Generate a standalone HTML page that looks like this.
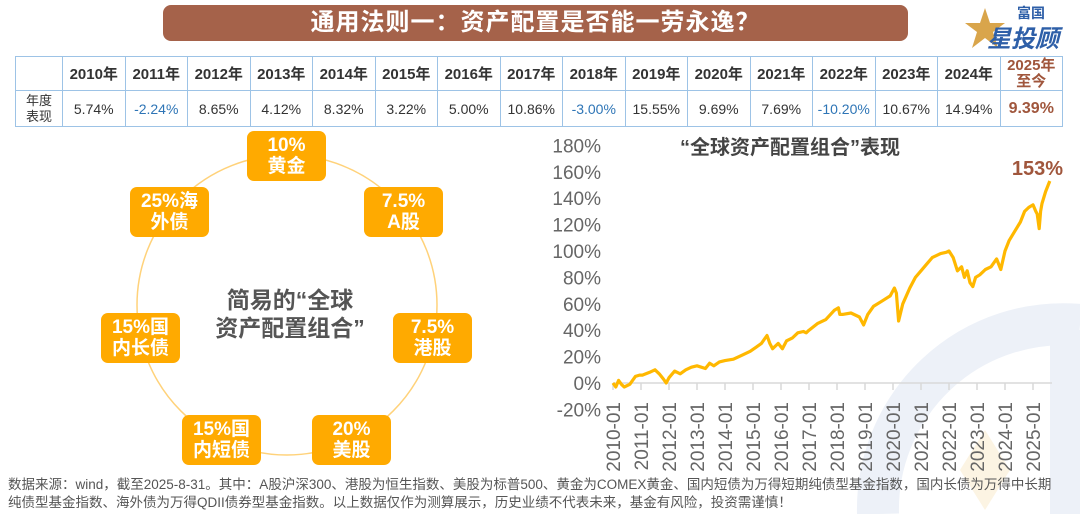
<!DOCTYPE html>
<html><head><meta charset="utf-8">
<style>
body{margin:0;width:1080px;height:514px;overflow:hidden;background:#fff;font-family:"Liberation Sans","Noto Sans CJK SC",sans-serif;position:relative}
.abs{position:absolute}
#banner{left:163px;top:5px;width:745px;height:36px;background:#a5624a;border-radius:8px;color:#fff;font-weight:bold;font-size:24px;text-align:center;line-height:36px;letter-spacing:1px}
table{position:absolute;left:15px;top:56px;border-collapse:collapse;font-size:14px;color:#333}
td{border:1px solid #9dc3e6;text-align:center;padding:0;width:61.5px}
tr.h td{height:33px;font-weight:bold;font-size:15px}
tr.v td{height:35px}
td.first{width:46px;font-size:13px;line-height:16px}
.neg{color:#2e75b6}
.hl{color:#a0563c;font-weight:bold}
.box{position:absolute;width:79px;height:50px;background:#ffaa00;border-radius:7px;color:#fff;font-weight:bold;font-size:19px;line-height:21px;text-align:center;display:flex;align-items:center;justify-content:center}
#center{left:210px;top:286px;width:160px;font-size:23px;font-weight:bold;color:#555;line-height:28px;text-align:center}
#foot{left:8px;top:476px;font-size:13.5px;color:#555;line-height:18px;white-space:nowrap}
</style></head><body>
<svg class="abs" style="left:0;top:0" width="1080" height="514">
<path d="M878,514 A185,185 0 0 1 1080,325" fill="none" stroke="#edf1f8" stroke-width="42"/>
<rect x="1050" y="330" width="30" height="184" fill="#edf1f8"/>
<polygon points="985,430 1010,470 985,510 960,470" fill="#fcf4e3"/>
</svg>
<div id="banner" class="abs">通用法则一：资产配置是否能一劳永逸？</div>
<div class="abs" style="left:965px;top:3px;width:110px;height:48px">
<svg width="110" height="48"><polygon points="20,5 25,20 40,20 28,29 33,45 20,35 7,45 12,29 0,20 15,20" fill="#d9a54b"/></svg>
<div class="abs" style="left:52px;top:0;font-size:14px;font-weight:bold;color:#2e5fa8">富国</div>
<div class="abs" style="left:22px;top:16px;font-size:24px;font-weight:bold;color:#2e5fa8;font-style:italic">星投顾</div>
</div>
<table>
<tr class="h"><td class="first"></td><td>2010年</td><td>2011年</td><td>2012年</td><td>2013年</td><td>2014年</td><td>2015年</td><td>2016年</td><td>2017年</td><td>2018年</td><td>2019年</td><td>2020年</td><td>2021年</td><td>2022年</td><td>2023年</td><td>2024年</td><td class="hl" style="line-height:16px">2025年<br>至今</td></tr>
<tr class="v"><td class="first">年度<br>表现</td><td>5.74%</td><td class="neg">-2.24%</td><td>8.65%</td><td>4.12%</td><td>8.32%</td><td>3.22%</td><td>5.00%</td><td>10.86%</td><td class="neg">-3.00%</td><td>15.55%</td><td>9.69%</td><td>7.69%</td><td class="neg">-10.20%</td><td>10.67%</td><td>14.94%</td><td class="hl" style="font-size:16px">9.39%</td></tr>
</table>
<svg class="abs" style="left:0;top:0" width="520" height="470"><circle cx="287" cy="305" r="150" fill="none" stroke="#ffd27a" stroke-width="1.5"/></svg>
<div class="box" style="left:247px;top:131px">10%<br>黄金</div>
<div class="box" style="left:364px;top:187px">7.5%<br>A股</div>
<div class="box" style="left:393px;top:313px">7.5%<br>港股</div>
<div class="box" style="left:312px;top:415px">20%<br>美股</div>
<div class="box" style="left:182px;top:415px">15%国<br>内短债</div>
<div class="box" style="left:101px;top:313px">15%国<br>内长债</div>
<div class="box" style="left:130px;top:187px">25%海<br>外债</div>
<div id="center" class="abs">简易的“全球<br>资产配置组合”</div>
<svg id="chart" class="abs" style="left:0;top:0" width="1080" height="480"></svg>
<div id="foot" class="abs">数据来源：wind，截至2025-8-31。其中：A股沪深300、港股为恒生指数、美股为标普500、黄金为COMEX黄金、国内短债为万得短期纯债型基金指数，国内长债为万得中长期<br>纯债型基金指数、海外债为万得QDII债券型基金指数。以上数据仅作为测算展示，历史业绩不代表未来，基金有风险，投资需谨慎！</div>
<script>
const yTicks=[-20,0,20,40,60,80,100,120,140,160,180];
const xYears=[2010,2011,2012,2013,2014,2015,2016,2017,2018,2019,2020,2021,2022,2023,2024,2025];
const dates=[2010.0,2010.1,2010.2,2010.3,2010.4,2010.6,2010.8,2010.95,2011.05,2011.3,2011.5,2011.65,2011.8,2011.9,2012.0,2012.2,2012.4,2012.6,2012.8,2013.0,2013.3,2013.45,2013.6,2013.8,2014.0,2014.3,2014.6,2014.9,2015.1,2015.3,2015.5,2015.6,2015.7,2015.9,2016.05,2016.2,2016.4,2016.6,2016.8,2016.9,2017.0,2017.3,2017.6,2017.9,2018.05,2018.1,2018.2,2018.5,2018.8,2018.95,2019.1,2019.3,2019.6,2019.9,2020.05,2020.12,2020.2,2020.35,2020.6,2020.8,2021.0,2021.2,2021.4,2021.7,2021.9,2022.0,2022.15,2022.3,2022.45,2022.55,2022.65,2022.75,2022.85,2022.95,2023.1,2023.3,2023.5,2023.7,2023.85,2024.0,2024.15,2024.35,2024.55,2024.7,2024.85,2025.0,2025.1,2025.15,2025.22,2025.27,2025.32,2025.45,2025.6,2025.68];
const values=[0,-3,2,-1,-3,-1,5,6,6,8,10,7,3,0,4,9,7,10,12,13,11,15,13,16,17,18,21,24,27,30,36,30,26,30,26,32,34,38,39,38,40,45,48,55,57,52,52,53,50,44,52,58,62,66,72,68,47,60,72,80,85,90,95,98,99,100,95,85,88,80,85,76,73,80,82,86,88,94,86,100,108,115,122,130,133,135,130,128,117,130,136,145,153];
const ns="http://www.w3.org/2000/svg";
const svg=document.getElementById('chart');
const x0=613,pxYear=28,y0=383,pxPct=26.4/20;
const X=d=>x0+(d-2010)*pxYear;
const Y=v=>y0-v*pxPct;
function mk(t,a){const e=document.createElementNS(ns,t);for(const k in a)e.setAttribute(k,a[k]);svg.appendChild(e);return e;}
yTicks.forEach(v=>{const t=mk('text',{x:601,y:Y(v)+7,'text-anchor':'end','font-size':19,fill:'#666'});t.textContent=v+'%';

});
const ax=mk('line',{x1:X(2010),x2:1052,y1:y0,y2:y0,stroke:'#d9d9d9','stroke-width':1.5});


xYears.forEach(yr=>{const xx=X(yr);mk('line',{x1:xx,x2:xx,y1:y0,y2:y0+7,stroke:'#d9d9d9','stroke-width':1.5});
const t=mk('text',{transform:`translate(${xx+7},402) rotate(-90)`,'text-anchor':'end','font-size':19,fill:'#666'});t.textContent=yr+'-01';

});
let d='';dates.forEach((dt,i)=>{d+=(i?'L':'M')+X(dt).toFixed(1)+','+Y(values[i]).toFixed(1);});
const p=mk('path',{d:d,fill:'none',stroke:'#ffb800','stroke-width':3.2,'stroke-linejoin':'round'});


const tt=mk('text',{x:790,y:154,'text-anchor':'middle','font-size':20,'font-weight':'bold',fill:'#444'});tt.textContent='“全球资产配置组合”表现';


const lb=mk('text',{x:1063,y:175,'text-anchor':'end','font-size':20,'font-weight':'bold',fill:'#a0563c'});lb.textContent=values[values.length-1]+'%';


</script>
</body></html>
